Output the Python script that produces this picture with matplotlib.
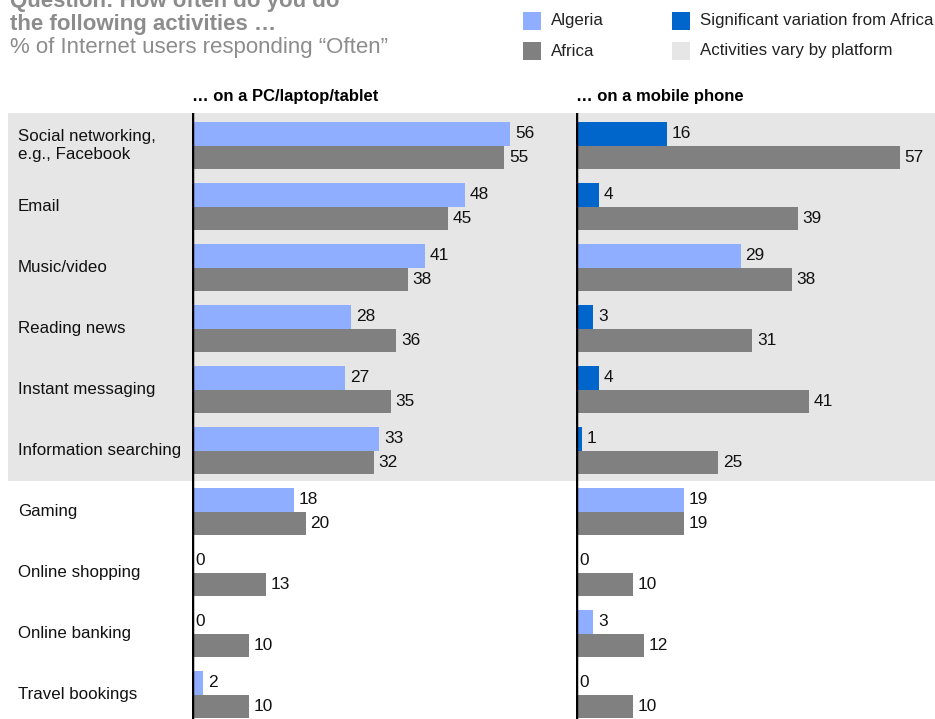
import matplotlib
matplotlib.use("Agg")
import matplotlib.pyplot as plt
from matplotlib.patches import Rectangle
from matplotlib.transforms import blended_transform_factory
import numpy as np

plt.rcParams['font.family'] = ['Liberation Sans', 'DejaVu Sans']

categories = ["Social networking,\ne.g., Facebook", "Email", "Music/video", "Reading news",
              "Instant messaging", "Information searching", "Gaming", "Online shopping",
              "Online banking", "Travel bookings"]
pc_algeria = [56, 48, 41, 28, 27, 33, 18, 0, 0, 2]
pc_africa = [55, 45, 38, 36, 35, 32, 20, 13, 10, 10]
mobile_algeria = [16, 4, 29, 3, 4, 1, 19, 0, 3, 0]
mobile_africa = [57, 39, 38, 31, 41, 25, 19, 10, 12, 10]
mobile_significant = [True, True, False, True, True, True, False, False, False, False]
n_vary = 6  # first six activities vary by platform

C_ALG = "#8FAEFF"
C_AFR = "#808080"
C_SIG = "#0066CC"
C_BAND = "#E6E6E6"
C_TITLE = "#8C8C8C"

W, H = 935, 719
fig = plt.figure(figsize=(W / 100, H / 100), dpi=100)

px_per_unit = 5.68
top_px = 113
ax_h = (H - top_px) / H
ylim = (9.40, -0.533)

ax1 = fig.add_axes([192 / W, 0, 370 / W, ax_h])
ax2 = fig.add_axes([576 / W, 0, 359 / W, ax_h])
ax1.set_xlim(0, 370 / px_per_unit)
ax2.set_xlim(0, 359 / px_per_unit)

y = np.arange(len(categories))
bh = 0.385
VAL_FS = 12.4

def draw(ax, alg, afr, alg_colors):
    ax.set_ylim(*ylim)
    ax.patch.set_visible(False)
    ax.barh(y - bh / 2, alg, height=bh, color=alg_colors, edgecolor="none", zorder=2)
    ax.barh(y + bh / 2, afr, height=bh, color=C_AFR, edgecolor="none", zorder=2)
    for yi, v in zip(y, alg):
        ax.annotate(str(v), (v, yi - bh / 2), xytext=(3.5 if v > 0 else 2.5, 0),
                    textcoords="offset points", va="center", ha="left", fontsize=VAL_FS, color="#111111")
    for yi, v in zip(y, afr):
        ax.annotate(str(v), (v, yi + bh / 2), xytext=(3.5, 0),
                    textcoords="offset points", va="center", ha="left", fontsize=VAL_FS, color="#111111")
    ax.axvline(0, color="black", lw=2.5, zorder=3)
    ax.set_xticks([])
    ax.set_yticks([])
    for s in ax.spines.values():
        s.set_visible(False)

draw(ax1, pc_algeria, pc_africa, [C_ALG] * len(pc_algeria))
draw(ax2, mobile_algeria, mobile_africa, [C_SIG if s else C_ALG for s in mobile_significant])

# background band for activities varying by platform
tr = blended_transform_factory(fig.transFigure, ax1.transData)
fig.add_artist(Rectangle((8 / W, ylim[1]), 1 - 8 / W, (n_vary - 0.5) - ylim[1],
                         transform=tr, facecolor=C_BAND, edgecolor="none", zorder=0))

# category labels
for yi, c in zip(y, categories):
    fig.text(18 / W, yi, c, transform=tr, ha="left", va="center", fontsize=12.2,
             color="#111111", linespacing=1.3)

# panel headers
fig.text(192 / W, 1 - 96 / H, "… on a PC/laptop/tablet", fontsize=12, fontweight="bold",
         ha="left", va="center", color="black")
fig.text(576 / W, 1 - 96 / H, "… on a mobile phone", fontsize=12, fontweight="bold",
         ha="left", va="center", color="black")

# title (top line is cropped by the figure edge, as in the original)
fig.text(10 / W, 1 - 7 / H, "Question: How often do you do", fontsize=16, fontweight="bold",
         color=C_TITLE, ha="left", va="baseline")
fig.text(10 / W, 1 - 30 / H, "the following activities …", fontsize=16, fontweight="bold",
         color=C_TITLE, ha="left", va="baseline")
fig.text(10 / W, 1 - 53 / H, "% of Internet users responding “Often”", fontsize=16,
         color=C_TITLE, ha="left", va="baseline")

# legend
legend_items = [(523, 12, C_ALG, "Algeria"), (523, 42, C_AFR, "Africa"),
                (672, 12, C_SIG, "Significant variation from Africa"),
                (672, 42, C_BAND, "Activities vary by platform")]
for x0, y0, col, lab in legend_items:
    fig.add_artist(Rectangle((x0 / W, 1 - (y0 + 18) / H), 18 / W, 18 / H,
                             transform=fig.transFigure, facecolor=col, edgecolor="none"))
    fig.text((x0 + 28) / W, 1 - (y0 + 9) / H, lab, fontsize=12.2, color="#222222",
             ha="left", va="center")

fig.savefig("out.png", dpi=100, facecolor="white")
